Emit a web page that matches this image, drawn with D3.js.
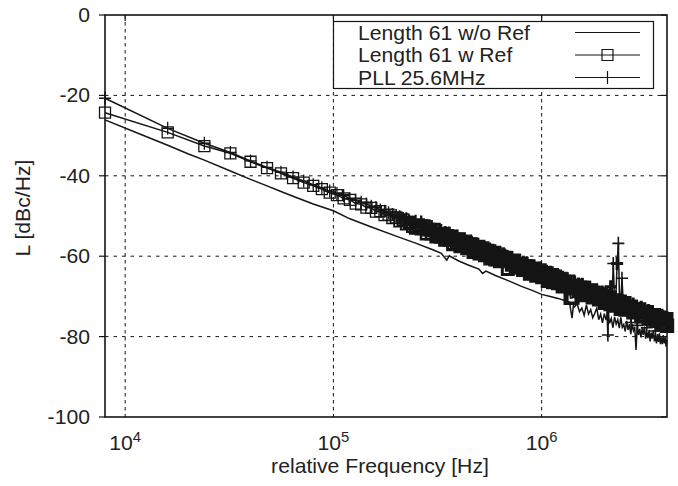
<!DOCTYPE html>
<html>
<head>
<meta charset="utf-8">
<script src="https://cdn.jsdelivr.net/npm/d3@7"></script>
<style>
  body { margin: 0; background: #fff; }
  text { font-family: "Liberation Sans", Arial, sans-serif; fill: #222; }
</style>
</head>
<body>
<div id="chart"></div>
<script>
// marker series share one frequency grid (kHz)
var freq_khz = [
  8, 16, 24, 32, 40, 48, 56, 64, 72, 80, 88, 96, 104, 112, 120, 128, 136, 144, 152, 160,
  168, 176, 184, 192, 200, 208, 216, 224, 232, 240,
  248, 256, 264, 272, 280, 288, 296, 304, 312, 320, 328, 336, 344, 352, 360, 368, 376, 384, 392, 400,
  408, 416, 424, 432, 440, 448, 456, 464, 472, 480, 488, 496, 504, 512, 520, 528, 536, 544, 552, 560,
  568, 576, 584, 592, 600, 608, 616, 624, 632, 640,
  656, 672, 688, 704, 720, 736, 752, 768, 784, 800, 816, 832, 848, 864, 880, 896, 912, 928, 944, 960,
  976, 992, 1008, 1024, 1040, 1056, 1072, 1088, 1104, 1120, 1136, 1152, 1168, 1184, 1200, 1216, 1232,
  1248, 1264, 1280,
  1312, 1344, 1376, 1408, 1440, 1472, 1504, 1536, 1568, 1600, 1632, 1664, 1696, 1728, 1760, 1792, 1824,
  1856, 1888, 1920, 1952, 1984, 2016, 2048, 2080, 2112, 2144, 2176, 2208, 2240, 2272, 2304, 2336, 2368,
  2400, 2432, 2464, 2496, 2528, 2560,
  2624, 2688, 2752, 2816, 2880, 2944, 3008, 3072, 3136, 3200, 3264, 3328, 3392, 3456, 3520, 3584, 3648,
  3712, 3776, 3840, 3904, 3968, 4000
];
var w_ref = [
  -24.3, -29.2, -32.6, -34.4, -36.5, -38.1, -39.4, -40.6, -41.7, -42.5, -43.3, -44.2, -44.8, -45.6, -46.0,
  -46.9, -47.1, -47.9, -48.0, -48.9, -48.8, -49.8, -49.7, -50.5, -50.4, -51.3, -50.9, -52.0, -51.6, -52.6,
  -53.0, -52.2, -53.2, -52.5, -54.4, -53.4, -54.4, -53.4, -55.1, -54.6, -55.2, -54.5, -55.9, -55.0, -55.9,
  -55.2, -57.0, -55.9, -56.8, -55.8, -57.5, -56.8, -57.4, -56.7, -58.0, -57.1, -57.9, -57.2, -58.9, -57.9,
  -58.7, -57.7, -59.3, -58.6, -59.2, -58.4, -59.7, -58.8, -59.6, -58.8, -60.5, -59.5, -60.3, -59.2, -60.8,
  -60.1, -60.7, -59.9, -61.2, -60.2,
  -61.1, -60.4, -63.2, -61.2, -62.1, -61.1, -62.8, -62.2, -62.7, -62.0, -63.4, -62.5, -63.3, -62.6, -64.3,
  -63.3, -64.2, -63.1, -64.8, -64.1, -64.6, -63.9, -65.2, -64.3, -65.1, -64.3, -66.1, -65.0, -65.8, -64.7,
  -66.4, -65.7, -66.2, -65.4, -66.7, -65.8, -66.6, -65.8, -67.5, -66.4,
  -67.3, -66.3, -70.4, -70.3, -68.0, -67.3, -68.7, -67.8, -68.7, -67.9, -69.7, -68.7, -69.5, -68.5, -70.2,
  -69.5, -70.1, -69.3, -70.7, -69.7, -70.6, -69.8, -71.6, -70.5, -71.3, -70.3, -71.9, -71.2, -71.7, -71.0,
  -72.3, -71.3, -72.1, -71.3, -73.1, -72.0, -72.8, -71.7, -73.3, -72.6,
  -73.2, -72.5, -74.0, -73.1, -73.9, -73.2, -75.0, -74.0, -74.9, -73.9, -75.5, -74.9, -75.5, -74.7, -76.1,
  -75.1, -76.0, -75.3, -77.0, -75.9, -76.8, -75.7, -77.3
];
var pll = [
  -20.7, -28.2, -31.9, -34.2, -36.3, -37.9, -39.1, -40.3, -41.3, -42.2, -43.0, -43.8, -44.4, -44.9, -45.7,
  -46.1, -46.6, -47.0, -47.6, -47.9, -48.5, -48.8, -49.2, -49.6, -49.9, -50.2, -50.6, -50.7, -51.3, -51.5,
  -51.3, -52.4, -51.5, -52.6, -52.4, -53.7, -52.6, -53.5, -53.4, -54.5, -53.6, -54.7, -54.1, -55.2, -54.2,
  -55.3, -55.0, -56.2, -55.0, -55.9, -55.8, -56.7, -55.8, -56.9, -56.2, -57.3, -56.2, -57.3, -56.9, -58.2,
  -56.9, -57.8, -57.6, -58.5, -57.6, -58.6, -57.9, -59.0, -57.9, -58.9, -58.5, -59.8, -58.5, -59.3, -59.1,
  -60.0, -59.1, -60.1, -59.4, -60.4,
  -59.4, -60.5, -60.2, -61.5, -60.3, -61.2, -61.1, -62.1, -61.1, -62.2, -61.6, -62.7, -61.6, -62.7, -62.3,
  -63.6, -62.4, -63.2, -63.1, -64.0, -63.0, -64.1, -63.4, -64.5, -63.4, -64.4, -64.1, -65.3, -64.0, -64.8,
  -64.7, -65.6, -64.6, -65.6, -64.9, -66.0, -64.9, -65.9, -65.5, -66.7,
  -65.5, -66.4, -66.3, -67.3, -66.4, -67.5, -66.9, -68.0, -67.0, -68.0, -67.7, -69.0, -67.7, -68.6, -68.5,
  -69.4, -68.5, -69.5, -68.9, -69.9, -68.9, -69.9, -69.6, -70.8, -79.6, -70.1, -67.6, -70.9, -61.8, -71.3,
  -70.2, -61.8, -56.8, -72.0, -70.8, -65.5, -71.4, -72.3, -71.3, -72.3,
  -71.7, -76.5, -71.9, -73.0, -77.2, -73.9, -72.7, -73.6, -73.5, -77.8, -73.5, -74.6, -74.0, -75.0, -78.6,
  -75.0, -74.7, -76.0, -74.7, -75.5, -75.4, -76.3, -75.3
];
// plain line series, own grid (kHz)
var wo_ref_khz = [
  8, 12, 16, 20, 24, 32, 40, 48, 56, 64, 80, 100, 120, 150, 200, 250, 300, 330, 350, 360,
  400, 450, 500, 520, 540, 600, 700, 800, 900, 1000, 1100, 1200, 1300, 1360, 1400, 1420, 1440,
  1480, 1520, 1560, 1600, 1640, 1680, 1720, 1760, 1800, 1840, 1880, 1920, 1960, 2000, 2040, 2080,
  2120, 2160, 2200, 2240, 2280, 2320, 2360, 2400, 2440, 2480, 2520, 2560, 2600, 2640, 2680, 2720,
  2760, 2800, 2840, 2880, 2920, 2960, 3000, 3040, 3080, 3120, 3160, 3200, 3240, 3280, 3320, 3360,
  3400, 3440, 3480, 3520, 3560, 3600, 3640, 3680, 3720, 3760, 3800, 3840, 3880, 3920, 3960, 4000
];
var wo_ref = [
  -26.1, -29.8, -32.4, -34.5, -36.1, -38.8, -40.9, -42.5, -43.9, -45.1, -47.0, -48.7, -50.7, -52.6, -55.0,
  -56.8, -58.4, -59.3, -61.0, -59.9, -61.2, -62.3, -63.2, -64.3, -63.7, -64.8, -66.2, -67.5, -68.5, -69.5,
  -70.0, -70.5, -71.1, -71.4, -75.4, -72.3, -72.6,
  -71.8, -73.8, -72.9, -74.7, -72.1, -74.4, -73.3, -75.3, -74.2, -72.9,
  -75.8, -74.4, -76.6, -74.3, -75.9, -73.7, -76.7, -75.5, -77.8, -75.1,
  -76.9, -75.8, -77.9, -75.2, -77.7, -77.0, -78.7, -76.1, -78.3, -76.9,
  -79.4, -76.8, -78.5, -77.6, -83.3, -77.0, -79.6, -78.1, -80.2, -77.8,
  -79.6, -77.5, -80.5, -79.0, -80.4, -78.3, -81.2, -79.0, -80.5, -78.4,
  -81.2, -79.7, -81.7, -79.4, -81.3, -79.2, -81.9, -80.2, -81.9, -79.6,
  -81.7, -80.2, -82.5, -80.8
];
var y_ticks = [0, -20, -40, -60, -80, -100];
var x_ticks = [1e4, 1e5, 1e6];
var x_tick_exps = ["4", "5", "6"];
var legend_labels = ["Length 61 w/o Ref", "Length 61 w Ref", "PLL 25.6MHz"];

var width = 678, height = 486;
var margins = { top: 15, right: 11, bottom: 69, left: 105 };
var ink = "#151515";

var x = d3.scaleLog()
  .domain([8000, 4000000])
  .range([margins.left, width - margins.right]);
var y = d3.scaleLinear()
  .domain([-100, 0])
  .range([height - margins.bottom, margins.top]);

var svg = d3.select("#chart")
  .append("svg")
  .attr("width", width)
  .attr("height", height)
  .style("background", "#fff");

// wide-ish text, like the original sans face
function label(g, px, py, str, anchor, size, rot) {
  return g.append("text")
    .attr("transform", "translate(" + px + "," + py + ")" + (rot ? " rotate(" + rot + ")" : "") + " scale(1.06,1)")
    .attr("text-anchor", anchor)
    .style("font-size", size + "px")
    .text(str);
}

// grid
svg.append("g")
  .selectAll("line")
  .data(y_ticks.filter((d) => d > -100 && d < 0))
  .enter()
  .append("line")
  .attr("x1", x.range()[0]).attr("x2", x.range()[1])
  .attr("y1", (d) => y(d)).attr("y2", (d) => y(d))
  .attr("stroke", ink).attr("stroke-width", 1)
  .attr("stroke-dasharray", "3.5,5");
svg.append("g")
  .selectAll("line")
  .data(x_ticks)
  .enter()
  .append("line")
  .attr("x1", (d) => x(d)).attr("x2", (d) => x(d))
  .attr("y1", y(0)).attr("y2", y(-100))
  .attr("stroke", ink).attr("stroke-width", 1)
  .attr("stroke-dasharray", "3.5,3.5");

// ticks: left outward, top/right mirrored inward
y_ticks.forEach(function (t) {
  svg.append("line")
    .attr("x1", x.range()[0] - 6).attr("x2", x.range()[0])
    .attr("y1", y(t)).attr("y2", y(t))
    .attr("stroke", ink).attr("stroke-width", 1.2);
  svg.append("line")
    .attr("x1", x.range()[1] - 6).attr("x2", x.range()[1])
    .attr("y1", y(t)).attr("y2", y(t))
    .attr("stroke", ink).attr("stroke-width", 1.2);
  label(svg, 90, y(t) + 7, t, "end", 20);
});
x_ticks.forEach(function (t, i) {
  svg.append("line")
    .attr("x1", x(t)).attr("x2", x(t))
    .attr("y1", y(0)).attr("y2", y(0) + 6)
    .attr("stroke", ink).attr("stroke-width", 1.2);
  var tx = label(svg, x(t), 450, "", "middle", 20);
  tx.append("tspan").text("10");
  tx.append("tspan").attr("dy", -8).style("font-size", "14px").text(x_tick_exps[i]);
});

label(svg, 380, 473, "relative Frequency [Hz]", "middle", 20);
label(svg, 30, 208, "L [dBc/Hz]", "middle", 20, -90);

// series
var wo_data = wo_ref_khz.map((f, i) => ({ f: f * 1000, v: wo_ref[i] }));
var wr_data = freq_khz.map((f, i) => ({ f: f * 1000, v: w_ref[i] }));
var pll_data = freq_khz.map((f, i) => ({ f: f * 1000, v: pll[i] }));

// where markers pile up, the original print smears them into a solid band
function pile_width(d, i, arr, cap) {
  var nxt = arr[Math.min(i + 1, arr.length - 1)];
  var prv = arr[Math.max(i - 1, 0)];
  var gap = (x(nxt.f) - x(prv.f)) / 2;
  // outliers sitting off the band stay thin
  var off = Math.abs(d.v - (prv.v + nxt.v) / 2) > 3;
  if (off) return 1.6;
  return gap < 4 ? Math.min(cap, 1.3 + (4 - gap) * 0.9) : 1.3;
}

var line = d3.line()
  .x((d) => x(d.f))
  .y((d) => y(d.v));

svg.append("path")
  .datum(wo_data)
  .attr("fill", "none").attr("stroke", ink).attr("stroke-width", 1.5)
  .attr("d", line);

svg.append("path")
  .datum(wr_data)
  .attr("fill", "none").attr("stroke", ink).attr("stroke-width", 1.5)
  .attr("d", line);
svg.append("g")
  .selectAll("path")
  .data(wr_data)
  .enter()
  .append("path")
  .attr("transform", (d) => "translate(" + x(d.f) + "," + y(d.v) + ")")
  .attr("d", "M-5.5,-5.5h11v11h-11z")
  .attr("fill", "none").attr("stroke", ink)
  .attr("stroke-width", (d, i) => pile_width(d, i, wr_data, 3.4));

svg.append("path")
  .datum(pll_data)
  .attr("fill", "none").attr("stroke", ink).attr("stroke-width", 1.5)
  .attr("d", line);
svg.append("g")
  .selectAll("path")
  .data(pll_data)
  .enter()
  .append("path")
  .attr("transform", (d) => "translate(" + x(d.f) + "," + y(d.v) + ")")
  .attr("d", "M-6,0H6M0,-6.5V6.5")
  .attr("fill", "none").attr("stroke", ink)
  .attr("stroke-width", (d, i) => pile_width(d, i, pll_data, 3.0));

// legend
var lg = svg.append("g");
lg.append("rect")
  .attr("x", 333.5).attr("y", 21.5)
  .attr("width", 320).attr("height", 67)
  .attr("fill", "#fff").attr("stroke", ink).attr("stroke-width", 1.2);
legend_labels.forEach(function (name, i) {
  var ly = 32.5 + i * 22.5;
  label(lg, 358, ly + 7, name, "start", 20);
  lg.append("line")
    .attr("x1", 575).attr("x2", 640)
    .attr("y1", ly).attr("y2", ly)
    .attr("stroke", ink).attr("stroke-width", 1.2);
  if (i === 1) {
    lg.append("path")
      .attr("transform", "translate(607.5," + ly + ")")
      .attr("d", "M-5.5,-5.5h11v11h-11z")
      .attr("fill", "none").attr("stroke", ink).attr("stroke-width", 1.2);
  }
  if (i === 2) {
    lg.append("path")
      .attr("transform", "translate(607.5," + ly + ")")
      .attr("d", "M-6,0H6M0,-6.5V6.5")
      .attr("fill", "none").attr("stroke", ink).attr("stroke-width", 1.2);
  }
});

// border
svg.append("rect")
  .attr("x", x.range()[0]).attr("y", y(0))
  .attr("width", x.range()[1] - x.range()[0])
  .attr("height", y(-100) - y(0))
  .attr("fill", "none").attr("stroke", ink).attr("stroke-width", 1.6);
</script>
</body>
</html>
